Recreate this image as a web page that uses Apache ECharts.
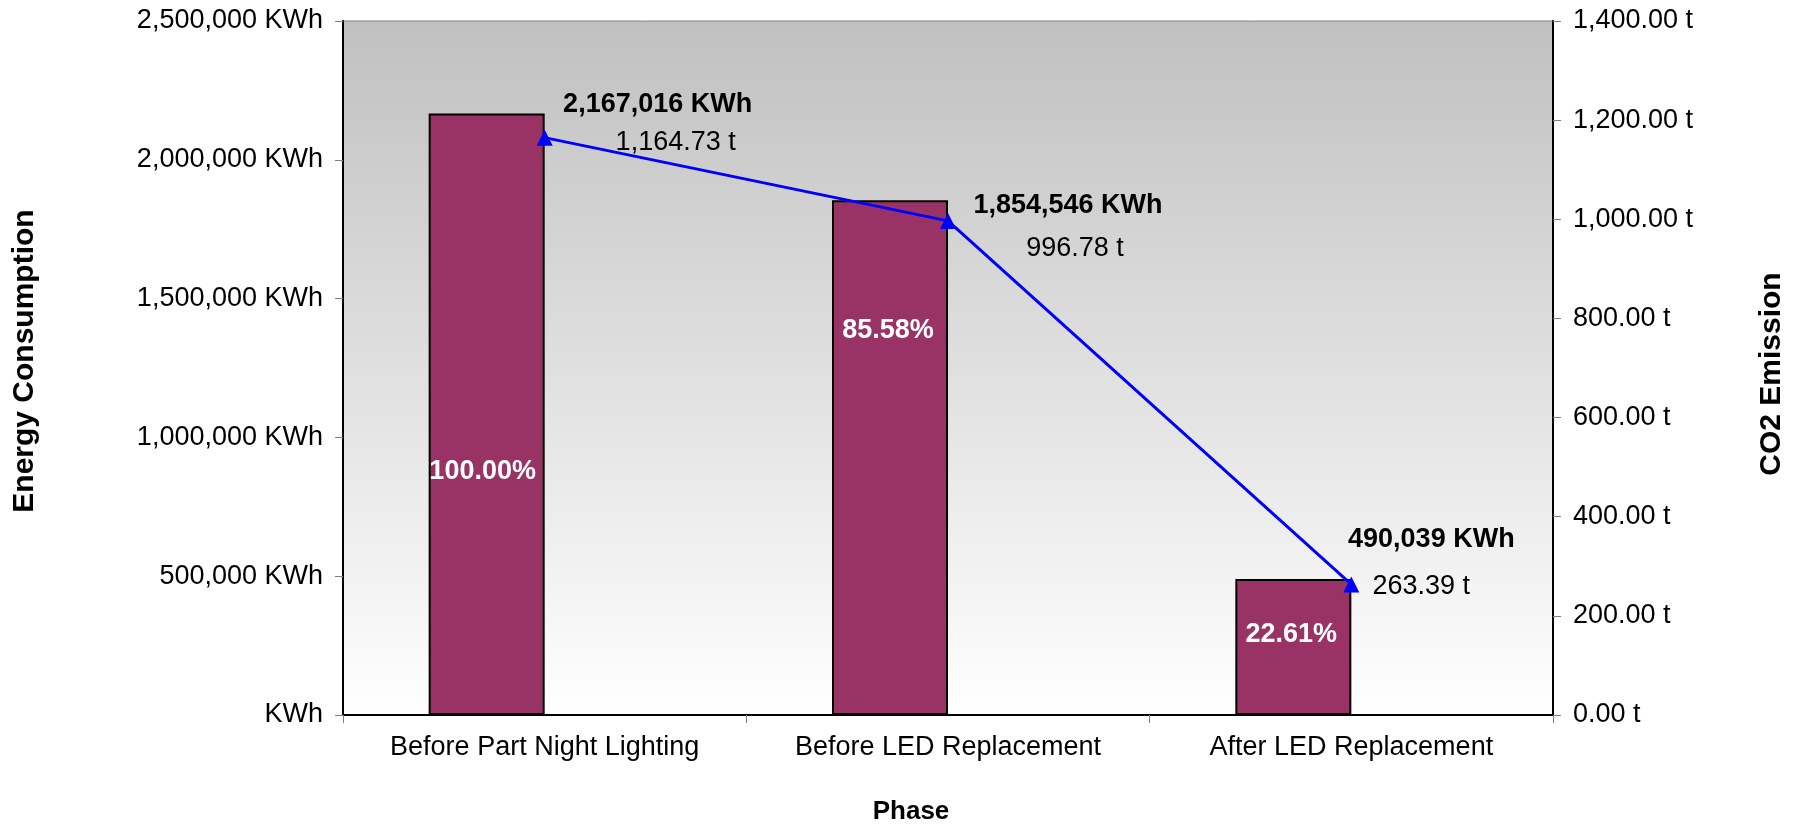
<!DOCTYPE html>
<html>
<head>
<meta charset="utf-8">
<script src="https://cdn.jsdelivr.net/npm/echarts@6/dist/echarts.min.js"></script>
<style>
  html, body { margin: 0; padding: 0; background: #fff; }
  #chart { width: 1794px; height: 824px; }
</style>
</head>
<body>
<div id="chart"></div>
<script>
// Chart data
const phases = ['Before Part Night Lighting', 'Before LED Replacement', 'After LED Replacement'];
const energyKwh = [2167016, 1854546, 490039];
const co2Tonnes = [1164.73, 996.78, 263.39];

// Axis ranges
const energyMax = 2500000;
const energyStep = 500000;
const co2Max = 1400;
const co2Step = 200;

// Label offsets (hand placed in the original)
const pctOffsets = [[-4, 57], [-2, -127], [-2, -12]];
const kwhOffsets = [[113, -9], [120, 5], [80, -39]];
const co2Offsets = [[131, 5], [127, 28], [70, 2]];

const FONT = 'Liberation Sans, Arial, sans-serif';
const fmtInt = (v) => Math.round(v).toLocaleString('en-US');
const fmt2 = (v) => v.toLocaleString('en-US', { minimumFractionDigits: 2, maximumFractionDigits: 2 });

const chart = echarts.init(document.getElementById('chart'));

const option = {
  animation: false,
  backgroundColor: '#ffffff',
  textStyle: { fontFamily: FONT },
  grid: {
    left: 343,
    right: 241,
    top: 21,
    bottom: 109,
    outerBoundsMode: 'none',
    show: true,
    borderColor: '#808080',
    borderWidth: 1,
    backgroundColor: new echarts.graphic.LinearGradient(0, 0, 0, 1, [
      { offset: 0, color: '#c0c0c0' },
      { offset: 1, color: '#ffffff' },
    ]),
  },
  xAxis: {
    type: 'category',
    data: phases,
    name: 'Phase',
    nameLocation: 'middle',
    nameGap: 84,
    nameTextStyle: {
      fontFamily: FONT, fontSize: 26, fontWeight: 'bold', color: '#000',
      padding: [0, 74, 0, 0],
    },
    axisLine: { lineStyle: { color: '#000', width: 2 } },
    axisTick: { show: true, length: 8, lineStyle: { color: '#808080' } },
    axisLabel: { fontFamily: FONT, fontSize: 27, color: '#000', margin: 19 },
  },
  yAxis: [
    {
      type: 'value',
      min: 0,
      max: energyMax,
      interval: energyStep,
      name: 'Energy Consumption',
      nameLocation: 'middle',
      nameGap: 303,
      nameTextStyle: {
        fontFamily: FONT, fontSize: 30, fontWeight: 'bold', color: '#000',
        padding: [0, 0, 0, 14],
      },
      splitLine: { show: false },
      axisLine: { show: true, lineStyle: { color: '#000', width: 2 } },
      axisTick: { show: true, length: 8, lineStyle: { color: '#808080' } },
      axisLabel: {
        fontFamily: FONT, fontSize: 27, color: '#000', margin: 20,
        formatter: (v) => (v === 0 ? 'KWh' : `${fmtInt(v)} KWh`),
      },
    },
    {
      type: 'value',
      min: 0,
      max: co2Max,
      interval: co2Step,
      position: 'right',
      name: 'CO2 Emission',
      nameLocation: 'middle',
      nameGap: 204,
      nameTextStyle: {
        fontFamily: FONT, fontSize: 30, fontWeight: 'bold', color: '#000',
        padding: [0, 12, 0, 0],
      },
      splitLine: { show: false },
      axisLine: { show: true, lineStyle: { color: '#000', width: 2 } },
      axisTick: { show: true, length: 8, lineStyle: { color: '#808080' } },
      axisLabel: {
        fontFamily: FONT, fontSize: 27, color: '#000', margin: 20,
        formatter: (v) => `${fmt2(v)} t`,
      },
    },
  ],
  series: [
    {
      name: 'Energy',
      type: 'bar',
      barWidth: 116,
      barGap: '0%',
      itemStyle: { color: '#993366', borderColor: '#000', borderWidth: 2 },
      label: {
        show: true,
        position: 'inside',
        fontFamily: FONT,
        fontSize: 27,
        fontWeight: 'bold',
        color: '#fff',
        formatter: (p) => `${(p.value / energyKwh[0] * 100).toFixed(2)}%`,
      },
      data: energyKwh.map((v, i) => ({ value: v, label: { offset: pctOffsets[i] } })),
    },
    {
      // empty second slot, as in the original the bar sits left of the category centre
      name: 'spacer',
      type: 'bar',
      barWidth: 116,
      data: [],
    },
    {
      name: 'Energy label',
      type: 'scatter',
      symbolSize: 0,
      silent: true,
      z: 5,
      itemStyle: { opacity: 1 },
      label: {
        show: true,
        position: 'inside',
        fontFamily: FONT,
        fontSize: 27,
        fontWeight: 'bold',
        color: '#000',
        formatter: (p) => `${fmtInt(p.value)} KWh`,
      },
      data: energyKwh.map((v, i) => ({ value: v, label: { offset: kwhOffsets[i] } })),
    },
    {
      name: 'CO2',
      type: 'line',
      yAxisIndex: 1,
      symbol: 'triangle',
      symbolSize: 16,
      lineStyle: { color: '#0000ff', width: 3 },
      itemStyle: { color: '#0000ff' },
      z: 4,
      label: {
        show: true,
        position: 'inside',
        fontFamily: FONT,
        fontSize: 27,
        color: '#000',
        formatter: (p) => `${fmt2(p.value)} t`,
      },
      data: co2Tonnes.map((v, i) => ({ value: v, label: { offset: co2Offsets[i] } })),
    },
  ],
};

chart.setOption(option);
</script>
</body>
</html>
